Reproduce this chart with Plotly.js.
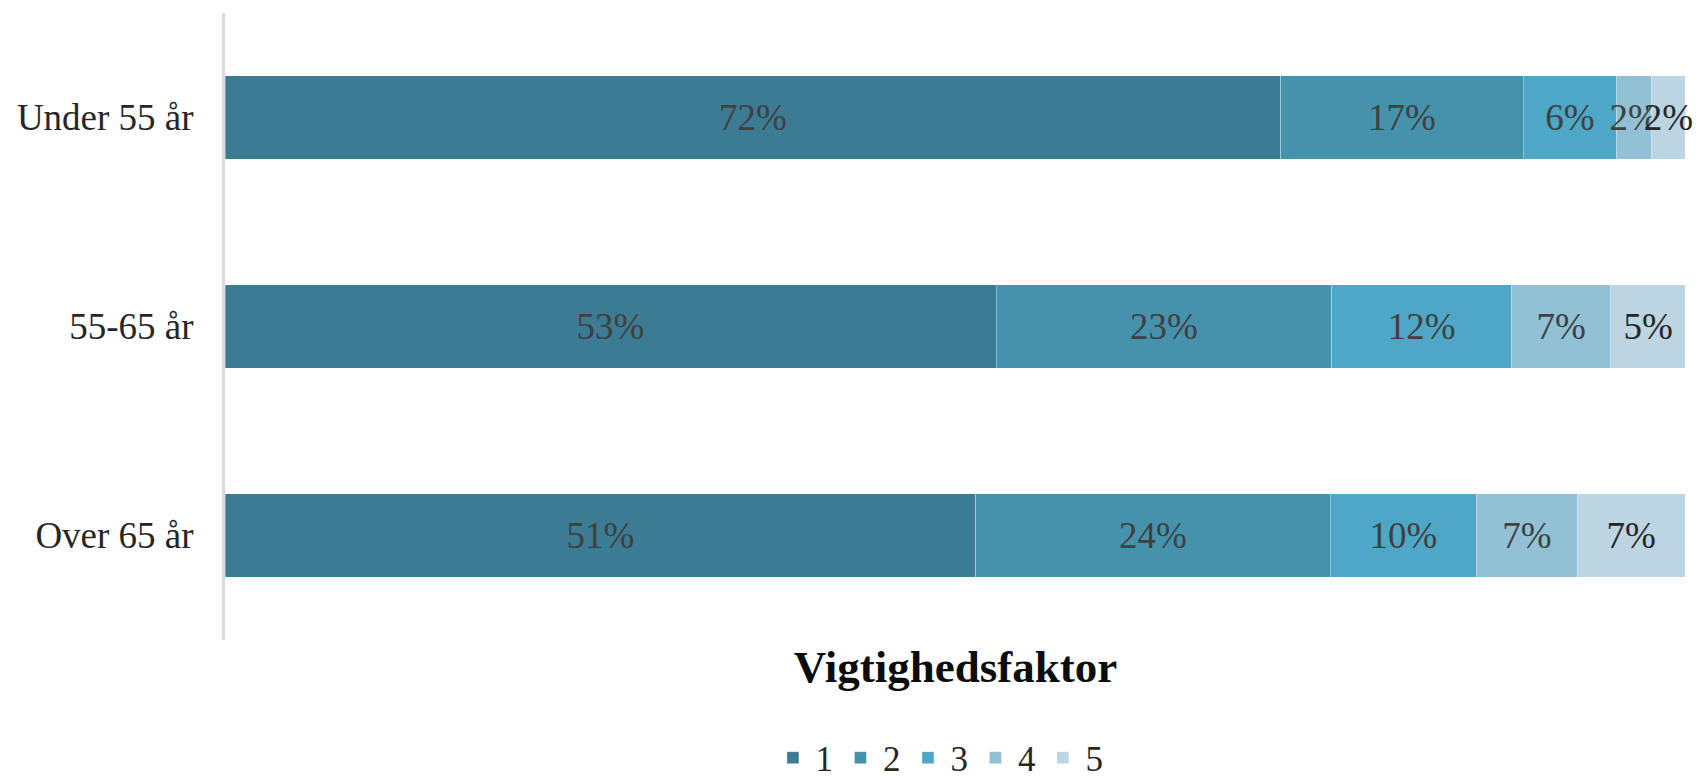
<!DOCTYPE html>
<html>
<head>
<meta charset="utf-8">
<script src="https://cdn.plot.ly/plotly-3.0.1.min.js"></script>
<style>html,body{margin:0;padding:0;background:#fff;}#chart{width:1696px;height:784px;}</style>
</head>
<body>
<div id="chart"></div>
<script>
const categories = ["Under 55 år", "55-65 år", "Over 65 år"];
const seriesNames = ["1", "2", "3", "4", "5"];
const s1 = [72.3, 52.8, 51.4];
const s2 = [16.6, 23.0, 24.3];
const s3 = [6.4, 12.3, 10.0];
const s4 = [2.4, 6.8, 6.9];
const s5 = [2.3, 5.1, 7.4];
const labels1 = ["72%", "53%", "51%"];
const labels2 = ["17%", "23%", "24%"];
const labels3 = ["6%", "12%", "10%"];
const labels4 = ["2%", "7%", "7%"];
const labels5 = ["2%", "5%", "7%"];
const colors = ["#3b7b94", "#4592ad", "#4ea7c7", "#92c0d5", "#bcd5e3"];
const textColors = ["#404040", "#404040", "#404040", "#404040", "#262626"];

const values = [s1, s2, s3, s4, s5];
const labels = [labels1, labels2, labels3, labels4, labels5];
const FONT = "Liberation Serif, Times New Roman, serif";

const traces = values.map((v, i) => ({
  type: "bar",
  orientation: "h",
  name: seriesNames[i],
  y: categories,
  x: v,
  text: labels[i],
  textposition: "inside",
  insidetextanchor: "middle",
  textangle: 0,
  constraintext: "none",
  textfont: {family: FONT, size: 37, color: textColors[i]},
  marker: {color: colors[i], line: {color: "rgba(255,255,255,0.35)", width: 1}},
  hoverinfo: "skip",
  cliponaxis: false
}));

const layout = {
  width: 1696,
  height: 784,
  barmode: "stack",
  bargap: 0.6,
  paper_bgcolor: "#ffffff",
  plot_bgcolor: "#ffffff",
  margin: {l: 225, r: 10, t: 13, b: 144, autoexpand: false},
  font: {family: FONT, color: "#262626"},
  xaxis: {
    range: [0, 100.05],
    automargin: false,
    showgrid: false,
    zeroline: false,
    showticklabels: false,
    ticks: "",
    showline: false,
    title: {text: "<b>Vigtighedsfaktor</b>", font: {family: FONT, size: 45, color: "#0d0d0d"}, standoff: 10}
  },
  yaxis: {
    categoryorder: "array",
    categoryarray: categories,
    autorange: "reversed",
    automargin: false,
    showgrid: false,
    zeroline: false,
    showline: true,
    linecolor: "#d9d9d9",
    linewidth: 3,
    ticks: "",
    ticklabelstandoff: 21,
    tickfont: {family: FONT, size: 37, color: "#262626"}
  },
  legend: {
    orientation: "h",
    x: 0.489,
    xanchor: "center",
    y: -0.188,
    yanchor: "middle",
    font: {family: FONT, size: 35, color: "#262626"},
    itemwidth: 35,
    tracegroupgap: 0,
    traceorder: "normal"
  },
  showlegend: true
};

Plotly.newPlot("chart", traces, layout, {displayModeBar: false, staticPlot: true});
</script>
</body>
</html>
